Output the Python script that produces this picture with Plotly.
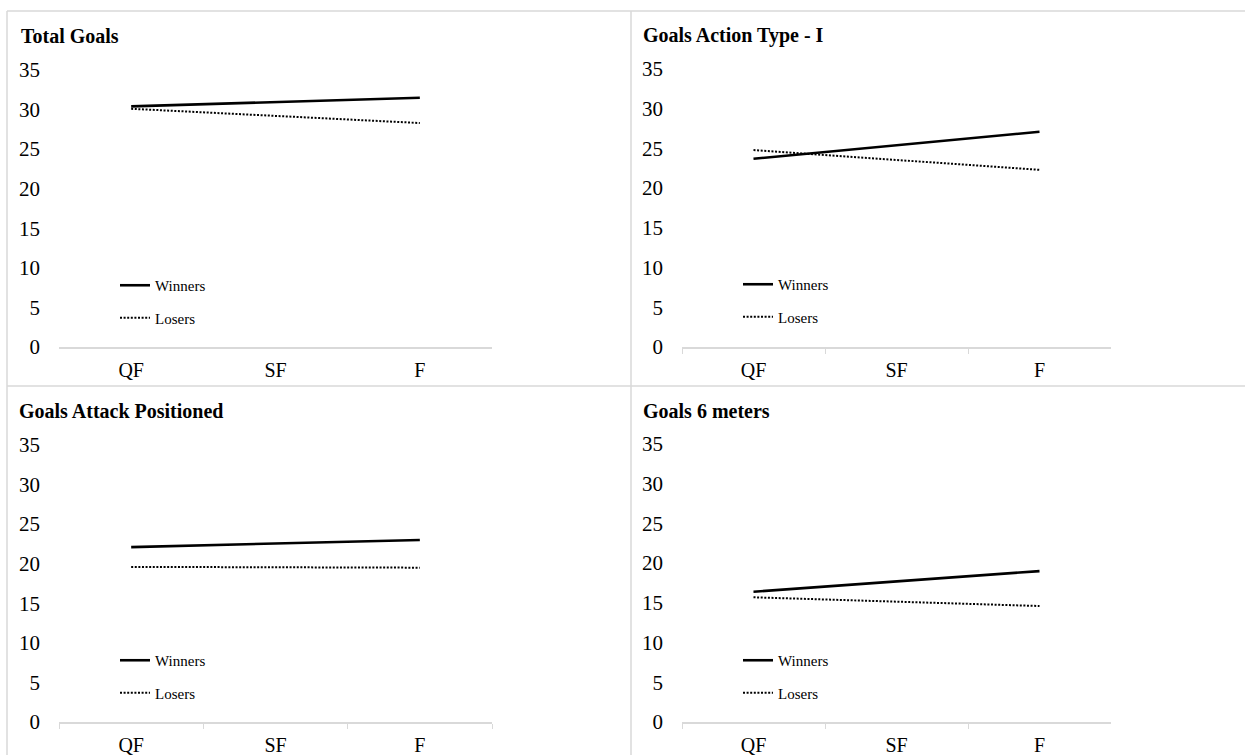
import plotly.graph_objects as go

# Match stages and per-panel goal averages (None = no value at that stage)
stages = ["QF", "SF", "F"]

total_winners = [30.4, None, 31.5]
total_losers = [30.1, None, 28.3]

action_winners = [23.7, None, 27.1]
action_losers = [24.8, None, 22.3]

attack_winners = [22.1, None, 23.0]
attack_losers = [19.6, None, 19.5]

six_winners = [16.4, None, 19.0]
six_losers = [15.7, None, 14.6]

panel_titles = ["Total Goals", "Goals Action Type - I",
                "Goals Attack Positioned", "Goals 6 meters"]
series_names = ["Winners", "Losers"]

W, H = 1245, 755
FONT = "Liberation Serif, Times New Roman, serif"
GRID_GREY = "#d9d9d9"


def fx(p):
    return p / W


def fy(p):
    return 1 - p / H


# Pixel boxes of the plotting areas: (left, right, top, bottom)
boxes = [
    (59, 492, 70, 347),
    (682, 1111, 69, 347),
    (59, 492, 445, 722),
    (682, 1111, 444, 722),
]
title_pos = [(19, 36), (641, 36), (17, 411), (641, 411)]
legend_pos = [(115, 269), (738, 268), (115, 644), (738, 644)]
show_ticks = [False, True, True, True]

panels = [
    (total_winners, total_losers),
    (action_winners, action_losers),
    (attack_winners, attack_losers),
    (six_winners, six_losers),
]

fig = go.Figure()
layout = dict(
    width=W, height=H,
    margin=dict(l=0, r=0, t=0, b=0, autoexpand=False),
    paper_bgcolor="white", plot_bgcolor="white",
    font=dict(family=FONT, color="black"),
    annotations=[], shapes=[],
)

for i, ((w_vals, l_vals), box) in enumerate(zip(panels, boxes)):
    n = "" if i == 0 else str(i + 1)
    leg = "legend" + n
    left, right, top, bottom = box
    fig.add_trace(go.Scatter(
        x=stages, y=w_vals, name=series_names[0], mode="lines",
        connectgaps=True, line=dict(color="black", width=2.6),
        xaxis="x" + n, yaxis="y" + n, legend=leg, legendgroup="w" + n,
    ))
    fig.add_trace(go.Scatter(
        x=stages, y=l_vals, name=series_names[1], mode="lines",
        connectgaps=True, line=dict(color="black", width=2, dash="2px,1.6px"),
        xaxis="x" + n, yaxis="y" + n, legend=leg, legendgroup="l" + n,
    ))
    layout["xaxis" + n] = dict(
        domain=[fx(left), fx(right)], anchor="y" + n, automargin=False,
        type="category", categoryorder="array", categoryarray=stages,
        range=[-0.5, 2.5], showgrid=False, zeroline=False,
        showline=True, linecolor=GRID_GREY, linewidth=1.5,
        ticks="outside", tickson="boundaries", ticklen=5, tickwidth=1.2,
        tickcolor=GRID_GREY if show_ticks[i] else "rgba(0,0,0,0)",
        tickfont=dict(family=FONT, size=20, color="black"),
        ticklabelstandoff=4, fixedrange=True,
    )
    layout["yaxis" + n] = dict(
        domain=[fy(bottom), fy(top)], anchor="x" + n, automargin=False,
        range=[0, 35], dtick=5, tick0=0,
        showgrid=False, zeroline=False, showline=False, ticks="",
        tickfont=dict(family=FONT, size=21, color="black"),
        ticklabelstandoff=18, fixedrange=True,
    )
    tx, ty = title_pos[i]
    layout["annotations"].append(dict(
        text="<b>" + panel_titles[i] + "</b>", xref="paper", yref="paper",
        x=fx(tx), y=fy(ty), xanchor="left", yanchor="middle",
        showarrow=False, font=dict(family=FONT, size=20, color="black"),
    ))
    lx, ly = legend_pos[i]
    layout[leg] = dict(
        x=fx(lx), y=fy(ly), xanchor="left", yanchor="top",
        xref="paper", yref="paper",
        bgcolor="rgba(0,0,0,0)", borderwidth=0,
        font=dict(family=FONT, size=15, color="black"),
        tracegroupgap=10, itemwidth=30,
    )

# Panel frames
frame = dict(type="line", xref="paper", yref="paper",
             line=dict(color=GRID_GREY, width=1.5))
for x0, y0, x1, y1 in [
    (7, 11, 1260, 11), (7, 386, 1260, 386),
    (7, 11, 7, 770), (631, 11, 631, 770),
]:
    layout["shapes"].append(dict(frame, x0=fx(x0), y0=fy(y0), x1=fx(x1), y1=fy(y1)))

fig.update_layout(**layout)
fig.write_html("out.html")
